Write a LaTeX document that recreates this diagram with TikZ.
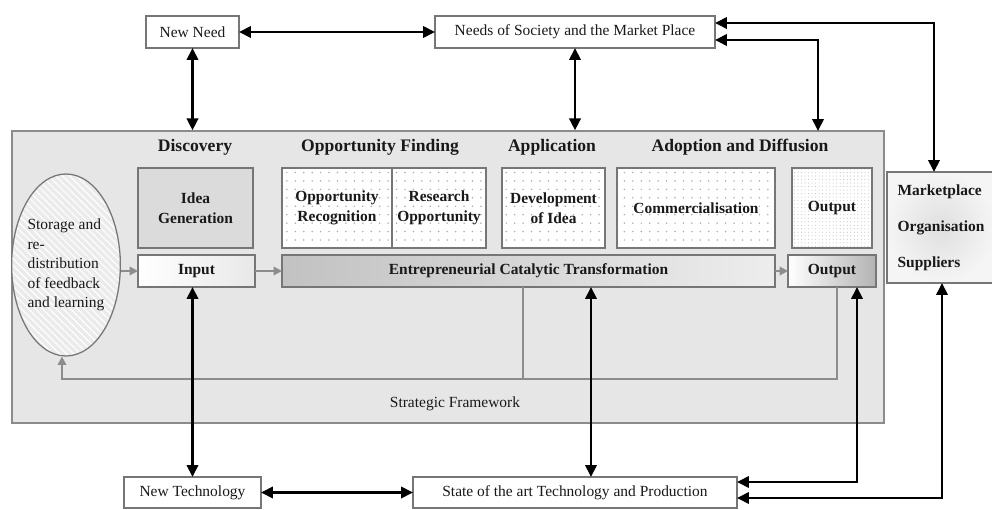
\documentclass[tikz,border=0pt]{standalone}
\usepackage{fontspec}
\setmainfont{Liberation Serif}
\usetikzlibrary{arrows.meta,patterns.meta,shapes.geometric,calc}

\definecolor{framefill}{HTML}{E6E6E6}
\definecolor{edge}{HTML}{767676}
\definecolor{feed}{HTML}{8C8C8C}

\begin{document}
\begin{tikzpicture}[x=0.025cm,y=-0.025cm,
  span/.style n args={4}{at={({(#1+#3)/2},{(#2+#4)/2})},
    minimum width={(#3-#1)*0.025cm},minimum height={(#4-#2)*0.025cm}},
  base/.style={draw=edge,line width=0.9pt,inner sep=0pt,outer sep=0pt,align=center,text=black!90},
  plainbox/.style={base,fill=white,font=\fontsize{11}{13}\selectfont},
  stagebox/.style={base,font=\fontsize{11}{14}\selectfont\bfseries},
  dotbox/.style={stagebox,preaction={fill=white},
    pattern={Dots[distance=6pt,radius=0.6pt]},pattern color=gray!65},
  heading/.style={font=\fontsize{12.5}{15}\selectfont\bfseries,inner sep=0pt,text=black!90},
  link/.style={line width=2pt,{Triangle[length=8.5pt,width=8pt]}-{Triangle[length=8.5pt,width=8pt]}},
  flow/.style={draw=feed,line width=1.6pt,-{Triangle[length=6pt,width=6pt]}},
  feedline/.style={draw=feed,line width=1.6pt},
]
\useasboundingbox (0,0) rectangle (992,510);

% strategic framework panel
\node[span={12}{131}{884}{423},draw=edge!85,line width=0.9pt,fill=framefill,inner sep=0pt] (frame) {};
\node[font=\fontsize{11}{13}\selectfont,text=black!90] (strategic) at (455,404) {Strategic Framework};

% stage headings
\node[heading] (discovery) at (195,147) {Discovery};
\node[heading] (oppfind) at (380,147) {Opportunity Finding};
\node[heading] (application) at (552,147) {Application};
\node[heading] (adoption) at (740,147) {Adoption and Diffusion};

% feedback store
\node[ellipse,draw=edge,line width=0.9pt,minimum width={104*0.025cm},minimum height={182*0.025cm},
  inner sep=0pt,preaction={fill=gray!16},
  pattern={Lines[angle=-45,distance=3.5pt,line width=0.8pt]},pattern color=white,
  align=left,font=\fontsize{11}{13.8}\selectfont,text=black!90] (storage) at (66,265)
  {Storage and\\re-\\distribution\\of feedback\\and learning};

% stage boxes
\node[stagebox,span={138}{168}{253}{248},fill=gray!28] (idea) {Idea\\Generation};
\node[dotbox,span={282}{168}{392}{248}] (recog) {Opportunity\\Recognition};
\node[dotbox,span={392}{168}{486}{248}] (research) {Research\\Opportunity};
\node[dotbox,span={502}{168}{605}{248}] (develop) {Development\\of Idea};
\node[dotbox,span={617}{168}{775}{248}] (commerce) {Commercialisation};
\node[stagebox,span={792}{168}{872}{248},preaction={fill=white},
  pattern={Dots[distance=2.5pt,radius=0.4pt]},pattern color=gray!45] (outtop) {Output};

% process row
\node[stagebox,span={138}{255}{255}{287},left color=white,right color=gray!18] (input) {Input};
\node[stagebox,span={282}{255}{775}{287},left color=gray!48,right color=gray!14] (ect)
  {Entrepreneurial Catalytic Transformation};
\node[stagebox,span={788}{255}{876}{287},left color=white,right color=gray!60] (outbot) {Output};

% environment
\node[base,span={887}{172}{995}{283},inner color=gray!25,outer color=gray!8,
  font=\fontsize{11}{25.5}\selectfont\bfseries,align=left] (market) {Marketplace\\Organisation\\Suppliers};
\node[plainbox,span={146}{16}{239}{48}] (newneed) {New Need};
\node[plainbox,span={435}{16}{715}{48}] (society) {Needs of Society and the Market Place};
\node[plainbox,span={124}{477}{261}{508}] (newtech) {New Technology};
\node[plainbox,span={413}{477}{737}{508}] (state) {State of the art Technology and Production};

% internal flow and feedback loop
\draw[flow] (storage.east |- input.west) -- (input.west);
\draw[flow] (input.east) -- (ect.west);
\draw[flow] (ect.east) -- (outbot.west);
\coordinate (fbL) at (62,379);
\coordinate (fbM) at (523,379);
\coordinate (fbR) at (837,379);
\draw[feedline] (ect.south -| fbM) -- (fbM);
\draw[flow] (outbot.south -| fbR) -- (fbR) -- (fbL) -- (storage.south -| fbL);

% external links
\coordinate (adoptdrop) at (818,131);
\coordinate (ectdrop) at (591,287);
\draw[link] (newneed.east) -- (society.west);
\draw[link] (newneed.south) -- (newneed.south |- frame.north);
\draw[link] (society.south) -- (society.south |- frame.north);
\draw[link] ($(society.east)+(0,8)$) -| (adoptdrop);
\draw[link] ($(society.east)+(0,-9)$) -| ($(market.north)+(-7,0)$);
\draw[link] (newtech.north) -- (newtech.north |- input.south);
\draw[link] (newtech.east) -- (state.west);
\draw[link] (ect.south -| ectdrop) -- (state.north -| ectdrop);
\draw[link] ($(outbot.south)+(25,0)$) |- ($(state.east)+(0,-10.5)$);
\draw[link] ($(market.south)+(1,0)$) |- ($(state.east)+(0,5.5)$);
\end{tikzpicture}
\end{document}
